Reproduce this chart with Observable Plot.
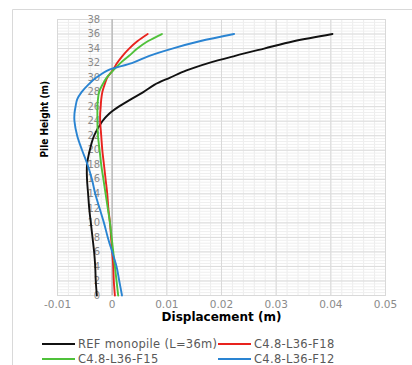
<!DOCTYPE html>
<html>
<head>
<meta charset="utf-8">
<script src="https://cdn.jsdelivr.net/npm/d3@7"></script>
<script src="https://cdn.jsdelivr.net/npm/@observablehq/plot@0.6"></script>
<style>
  html, body { margin: 0; padding: 0; background: #fff; overflow: hidden; }
  #wrap { position: relative; width: 412px; height: 365px; overflow: hidden; background: #fff; }
  #chart { position: absolute; left: 0; top: 0; width: 412px; }
  .sw { position: absolute; height: 2px; }
  .lt { position: absolute; font-family: "DejaVu Sans", sans-serif; font-size: 11.5px; letter-spacing: 0.3px; color: #595959; white-space: nowrap; line-height: 14px; }
</style>
</head>
<body>
<div id="wrap"><div id="chart"></div></div>
<script>
// ---- data ----
const heights = [0,2,4,6,8,10,12,14,16,18,20,22,24,25,26,27,28,29,30,31,32,33,34,35,36];
const refDisp = [-0.0028,-0.0030,-0.0031,-0.0033,-0.0036,-0.0039,-0.0042,-0.0044,-0.0046,-0.0046,-0.0041,-0.0033,-0.0018,-0.0006,0.0012,0.0034,0.0057,0.0077,0.0106,0.0136,0.0176,0.0225,0.0278,0.0332,0.0403];
const f18Disp = [0.0005,0.0003,0.0002,0.0000,-0.0002,-0.0004,-0.0007,-0.0009,-0.0012,-0.0015,-0.0018,-0.0020,-0.0022,-0.0022,-0.0021,-0.0020,-0.0018,-0.0014,-0.0009,0.0001,0.0009,0.0019,0.0031,0.0046,0.0065];
const f15Disp = [0.0011,0.0008,0.0005,0.0002,-0.0001,-0.0004,-0.0008,-0.0012,-0.0016,-0.0020,-0.0023,-0.0026,-0.0027,-0.0027,-0.0027,-0.0026,-0.0024,-0.0018,-0.0010,0.0002,0.0015,0.0031,0.0046,0.0065,0.0091];
const f12Disp = [0.0018,0.0013,0.0008,0.0000,-0.0008,-0.0015,-0.0023,-0.0031,-0.0037,-0.0045,-0.0055,-0.0064,-0.0069,-0.0069,-0.0067,-0.0064,-0.0056,-0.0044,-0.0029,-0.0008,0.0036,0.0068,0.0110,0.0160,0.0223];
const seriesNames = ["REF monopile (L=36m)", "C4.8-L36-F18", "C4.8-L36-F15", "C4.8-L36-F12"];
const seriesColors = ["#111111", "#e8231e", "#4fc13a", "#2a84d2"];
const xTicks = [-0.01, 0, 0.01, 0.02, 0.03, 0.04, 0.05];
const yTicks = [0,2,4,6,8,10,12,14,16,18,20,22,24,26,28,30,32,34,36,38];
const xMinor = d3.range(-0.01, 0.0501, 0.002);
const yMinor = d3.range(0, 38.01, 0.4);

const allDisp = [refDisp, f18Disp, f15Disp, f12Disp];
const rows = [];
allDisp.forEach((arr, i) => arr.forEach((v, j) => rows.push({series: seriesNames[i], h: heights[j], v})));

const plot = Plot.plot({
  width: 412,
  height: 365,
  marginLeft: 57,
  marginRight: 27,
  marginTop: 19,
  marginBottom: 70,
  style: {fontFamily: "DejaVu Sans, sans-serif", fontSize: "10.5px", color: "#8a8a8a", background: "transparent"},
  x: {domain: [-0.01, 0.05], axis: null},
  y: {domain: [0, 38], axis: null},
  color: {domain: seriesNames, range: seriesColors},
  marks: [
    Plot.gridX(xMinor, {stroke: "#ececec", strokeOpacity: 1}),
    Plot.gridY(yMinor, {stroke: "#efefef", strokeOpacity: 1}),
    Plot.gridX(xTicks, {stroke: "#d9d9d9", strokeOpacity: 1}),
    Plot.gridY(yTicks, {stroke: "#dcdcdc", strokeOpacity: 1}),
    Plot.frame({stroke: "#d9d9d9"}),
    Plot.ruleX([0], {stroke: "#bdbdbd", strokeWidth: 1.5}),
    Plot.axisX(xTicks, {tickSize: 0, tickPadding: 5, tickFormat: d => String(d), label: null, fill: "#8a8a8a", fontSize: 10.5, letterSpacing: 0.5}),
    Plot.text(yTicks, {x: 0, y: d => d, text: d => String(d), dx: -12, textAnchor: "end", fill: "#8a8a8a", fontSize: 10}),
    Plot.line(rows, {x: "v", y: "h", z: "series", stroke: "series", strokeWidth: 1.9, curve: "catmull-rom"}),
    Plot.text(["Pile Height (m)"], {frameAnchor: "left", dx: -13, rotate: -90, fill: "#000", fontWeight: "bold", fontSize: 10, fontFamily: "DejaVu Sans Condensed, DejaVu Sans, sans-serif"}),
    Plot.text(["Displacement (m)"], {frameAnchor: "bottom", dy: 25, fill: "#000", fontWeight: "bold", fontSize: 12, fontFamily: "DejaVu Sans, sans-serif"})
  ]
});
// outer chart-area border (decoration, like the spreadsheet chart box)
d3.select(plot).insert("path", ":first-child")
  .attr("d", "M12.5,420V9.5H430")
  .attr("fill", "none")
  .attr("stroke", "#d9d9d9");
document.getElementById("chart").appendChild(plot);

// legend
const wrap = document.getElementById("wrap");
const legendPos = [[42, 344], [218, 344], [42, 359], [218, 359]];
seriesNames.forEach((name, k) => {
  const [lx, ly] = legendPos[k];
  const sw = document.createElement("div");
  sw.className = "sw";
  sw.style.left = lx + "px";
  sw.style.top = (ly - 1) + "px";
  sw.style.width = "33px";
  sw.style.background = seriesColors[k];
  wrap.appendChild(sw);
  const t = document.createElement("div");
  t.className = "lt";
  t.style.left = (lx + 36) + "px";
  t.style.top = (ly - 7) + "px";
  t.textContent = name;
  wrap.appendChild(t);
});
</script>
</body>
</html>
